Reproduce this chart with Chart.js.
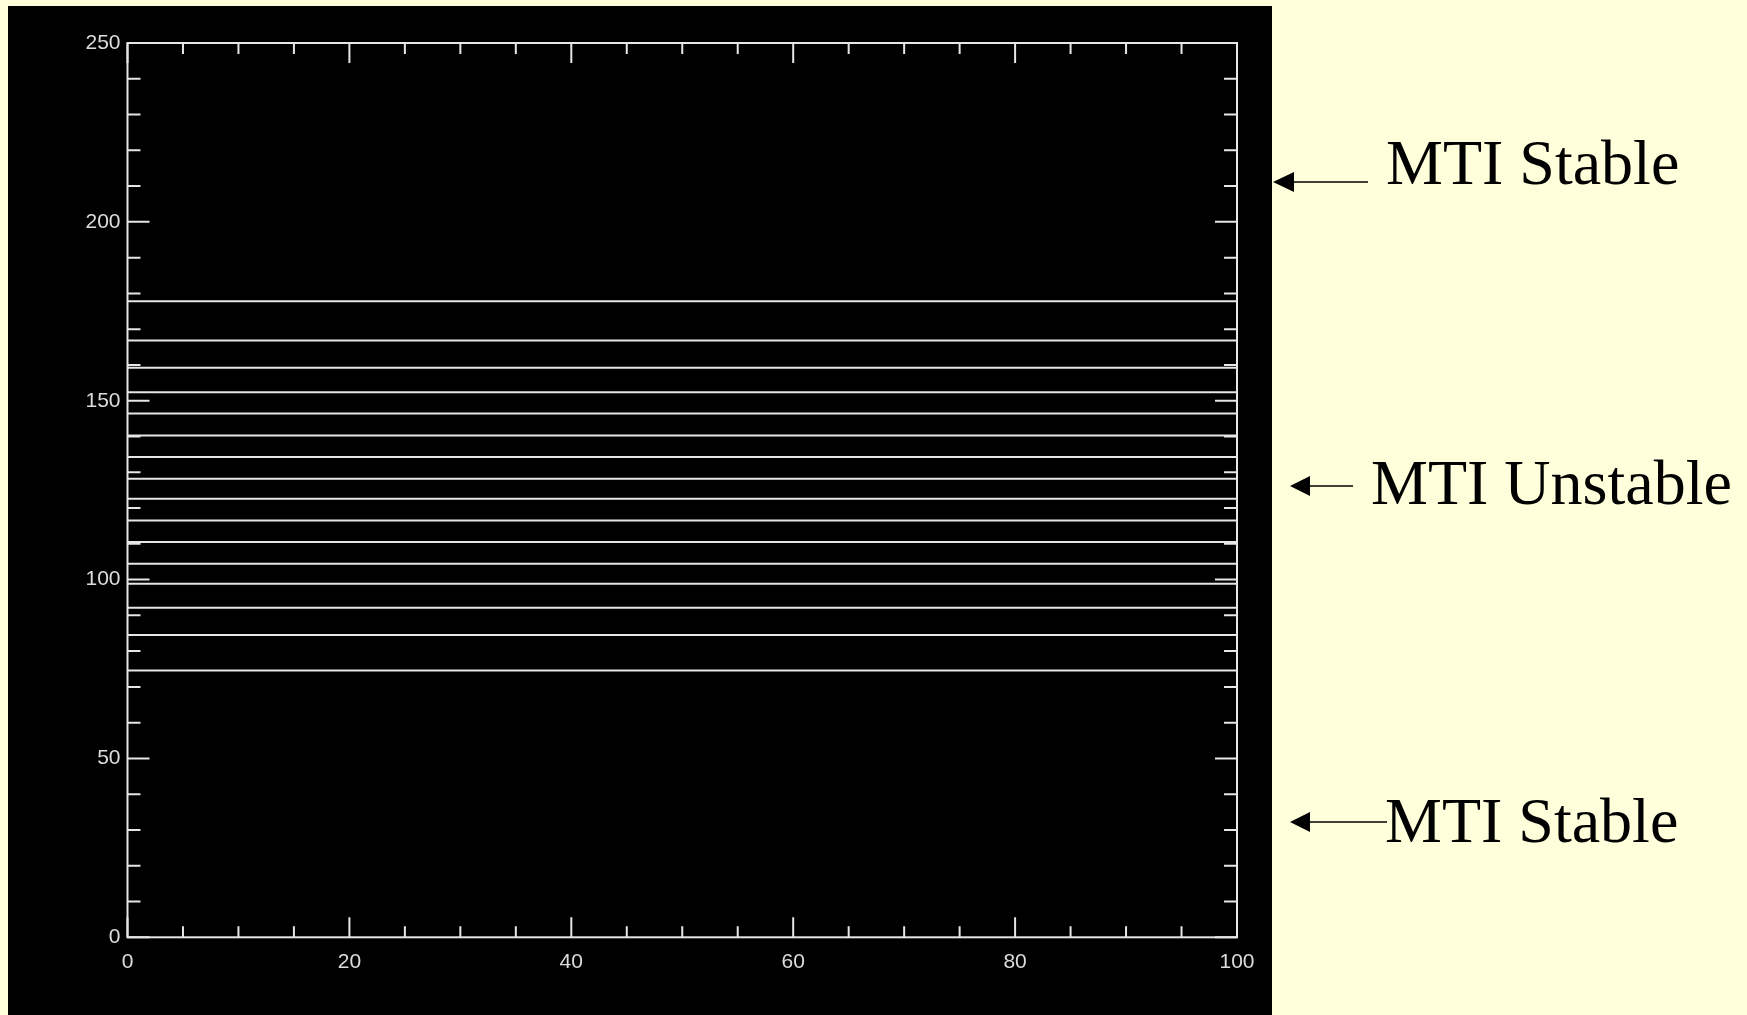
<!DOCTYPE html>
<html lang="en">
<head>
    <meta charset="UTF-8">
    <title>MTI stability levels</title>
    <script src="https://cdn.jsdelivr.net/npm/chart.js"></script>
    <style>
        body { margin: 0; width: 1747px; height: 1015px; background: #ffffdc; overflow: hidden; position: relative; }
        #panel { position: absolute; left: 8px; top: 6px; width: 1264px; height: 1009px; background: #000; }
        #panel canvas { position: absolute; left: 0; top: 0; }
        .note { position: absolute; font-family: "Liberation Serif", "Times New Roman", serif; font-size: 64px; line-height: 1; color: #000; white-space: nowrap; }
        #arrows { position: absolute; left: 0; top: 0; }
    </style>
    <script>
        // level values of the flux surfaces (white lines)
        const levels = [74.6, 84.5, 92.1, 98.8, 104.4, 110.5, 116.5, 122.6, 128.2, 134.3, 140.3, 146.4, 152.4, 159.2, 166.8, 177.8];
        const xRange = [0, 100];
        const yRange = [0, 250];
        const xTickLabels = [0, 20, 40, 60, 80, 100];
        const yTickLabels = [0, 50, 100, 150, 200, 250];
        const xMinorStep = 5;
        const yMinorStep = 10;

        // axis box with inward ticks on all four sides
        const frameTicks = {
            id: 'frameTicks',
            afterDatasetsDraw(chart) {
                const { ctx, chartArea: a, scales: { x, y } } = chart;
                ctx.save();
                ctx.strokeStyle = '#e6e6e6';
                ctx.lineWidth = 2;
                ctx.strokeRect(a.left, a.top, a.right - a.left, a.bottom - a.top);
                ctx.beginPath();
                for (let v = xRange[0]; v <= xRange[1]; v += xMinorStep) {
                    const px = x.getPixelForValue(v);
                    const len = xTickLabels.includes(v) ? 20 : 11;
                    ctx.moveTo(px, a.bottom); ctx.lineTo(px, a.bottom - len);
                    ctx.moveTo(px, a.top); ctx.lineTo(px, a.top + len);
                }
                for (let v = yRange[0]; v <= yRange[1]; v += yMinorStep) {
                    const py = y.getPixelForValue(v);
                    const len = yTickLabels.includes(v) ? 22 : 13;
                    ctx.moveTo(a.left, py); ctx.lineTo(a.left + len, py);
                    ctx.moveTo(a.right, py); ctx.lineTo(a.right - len, py);
                }
                ctx.stroke();
                ctx.restore();
            }
        };

        document.addEventListener("DOMContentLoaded", function() {
            const ctx = document.getElementById('levelChart').getContext('2d');

            const datasets = levels.map(v => ({
                data: [{ x: xRange[0], y: v }, { x: xRange[1], y: v }],
                borderColor: '#e6e6e6',
                borderWidth: 2,
                pointRadius: 0
            }));

            const tickFont = { family: '"Liberation Sans", Arial, sans-serif', size: 21 };

            new Chart(ctx, {
                type: 'line',
                data: { datasets: datasets },
                options: {
                    responsive: false,
                    animation: false,
                    layout: { padding: { top: 37, right: 35, left: 0, bottom: 0 } },
                    plugins: { legend: { display: false }, tooltip: { enabled: false } },
                    scales: {
                        x: {
                            type: 'linear',
                            min: xRange[0], max: xRange[1],
                            grid: { display: false, drawTicks: false },
                            border: { display: false },
                            ticks: {
                                stepSize: 20, padding: 12, color: '#dcdcdc', font: tickFont,
                                maxRotation: 0,
                                callback: v => xTickLabels.includes(v) ? String(v) : null
                            },
                            afterFit(scale) { scale.height = 77.7; }
                        },
                        y: {
                            type: 'linear',
                            min: yRange[0], max: yRange[1],
                            grid: { display: false, drawTicks: false },
                            border: { display: false },
                            ticks: {
                                stepSize: 50, padding: 7, color: '#dcdcdc', font: tickFont,
                                callback: v => yTickLabels.includes(v) ? String(v) : null
                            },
                            afterFit(scale) { scale.width = 119.5; }
                        }
                    }
                },
                plugins: [frameTicks]
            });
        });
    </script>
</head>
<body>
    <div id="panel">
        <canvas id="levelChart" width="1264" height="1009"></canvas>
    </div>

    <!-- arrows pointing at the plot -->
    <svg id="arrows" width="1747" height="1015">
        <g stroke="#000" stroke-width="1.6" fill="#000">
            <line x1="1290" y1="182" x2="1368" y2="182" />
            <polygon points="1273,182 1294,172 1294,192" stroke="none" />
            <line x1="1305" y1="486" x2="1353" y2="486" />
            <polygon points="1290,486 1310,476 1310,496" stroke="none" />
            <line x1="1305" y1="822" x2="1387" y2="822" />
            <polygon points="1290,822 1310,812 1310,832" stroke="none" />
        </g>
    </svg>

    <div class="note" style="left:1386px; top:131px;">MTI Stable</div>
    <div class="note" style="left:1371px; top:451px;">MTI Unstable</div>
    <div class="note" style="left:1385px; top:789px;">MTI Stable</div>
</body>
</html>
